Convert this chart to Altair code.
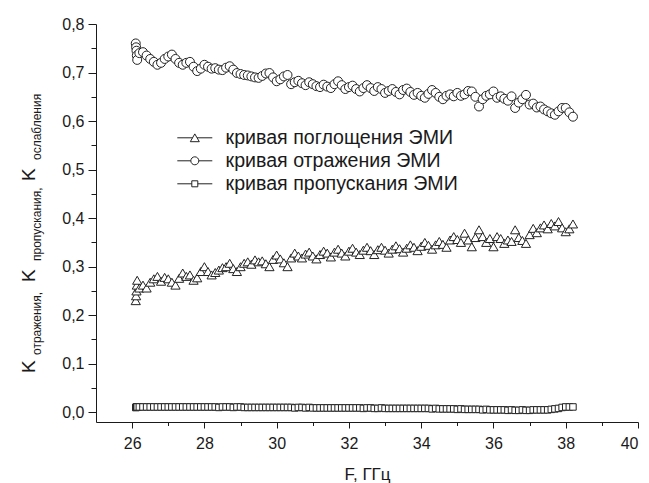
import altair as alt
import pandas as pd

# ---------------- data ----------------
freq = [26.10, 26.11, 26.12, 26.13, 26.14,
        26.2, 26.3, 26.4, 26.5, 26.6, 26.7, 26.8, 26.9, 27.0, 27.1,
        27.2, 27.3, 27.4, 27.5, 27.6, 27.7, 27.8, 27.9, 28.0, 28.1,
        28.2, 28.3, 28.4, 28.5, 28.6, 28.7, 28.8, 28.9, 29.0, 29.1,
        29.2, 29.3, 29.4, 29.5, 29.6, 29.7, 29.8, 29.9, 30.0, 30.1,
        30.2, 30.3, 30.4, 30.5, 30.6, 30.7, 30.8, 30.9, 31.0, 31.1,
        31.2, 31.3, 31.4, 31.5, 31.6, 31.7, 31.8, 31.9, 32.0, 32.1,
        32.2, 32.3, 32.4, 32.5, 32.6, 32.7, 32.8, 32.9, 33.0, 33.1,
        33.2, 33.3, 33.4, 33.5, 33.6, 33.7, 33.8, 33.9, 34.0, 34.1,
        34.2, 34.3, 34.4, 34.5, 34.6, 34.7, 34.8, 34.9, 35.0, 35.1,
        35.2, 35.3, 35.4, 35.5, 35.6, 35.7, 35.8, 35.9, 36.0, 36.1,
        36.2, 36.3, 36.4, 36.5, 36.6, 36.7, 36.8, 36.9, 37.0, 37.1,
        37.2, 37.3, 37.4, 37.5, 37.6, 37.7, 37.8, 37.9, 38.0, 38.1,
        38.2]

k_absorb = [0.230, 0.240, 0.250, 0.262, 0.272,
            0.256, 0.262, 0.256, 0.268, 0.275, 0.280, 0.270, 0.278, 0.275, 0.268,
            0.262, 0.276, 0.287, 0.280, 0.283, 0.272, 0.277, 0.290, 0.300, 0.290,
            0.283, 0.288, 0.293, 0.298, 0.300, 0.307, 0.296, 0.290, 0.300, 0.307,
            0.310, 0.305, 0.314, 0.310, 0.312, 0.306, 0.300, 0.315, 0.324, 0.316,
            0.308, 0.300, 0.318, 0.328, 0.322, 0.318, 0.326, 0.330, 0.322, 0.316,
            0.325, 0.332, 0.328, 0.320, 0.330, 0.336, 0.328, 0.322, 0.332, 0.338,
            0.330, 0.325, 0.334, 0.340, 0.333, 0.325, 0.335, 0.340, 0.334, 0.328,
            0.336, 0.343, 0.337, 0.330, 0.338, 0.345, 0.340, 0.333, 0.342, 0.350,
            0.344, 0.336, 0.345, 0.352, 0.346, 0.340, 0.355, 0.362, 0.356, 0.350,
            0.369, 0.355, 0.341, 0.360, 0.376, 0.362, 0.350, 0.358, 0.341, 0.362,
            0.358, 0.348, 0.355, 0.352, 0.376, 0.360, 0.354, 0.348, 0.366, 0.379,
            0.370, 0.380, 0.386, 0.378, 0.389, 0.384, 0.393, 0.380, 0.372, 0.378,
            0.388]

k_reflect = [0.760, 0.752, 0.745, 0.735, 0.726,
             0.740, 0.742, 0.735, 0.728, 0.722, 0.716, 0.720, 0.728, 0.733, 0.737,
             0.728, 0.720, 0.716, 0.720, 0.722, 0.712, 0.703, 0.708, 0.716, 0.712,
             0.708, 0.709, 0.706, 0.705, 0.710, 0.713, 0.706, 0.699, 0.697, 0.695,
             0.694, 0.692, 0.690, 0.689, 0.693, 0.698, 0.699, 0.690, 0.682, 0.686,
             0.692, 0.695, 0.676, 0.680, 0.683, 0.678, 0.674, 0.680, 0.676, 0.672,
             0.670, 0.675, 0.671, 0.668, 0.676, 0.682, 0.674, 0.666, 0.670, 0.673,
             0.666, 0.661, 0.668, 0.674, 0.668, 0.662, 0.670, 0.666, 0.658, 0.662,
             0.666, 0.660, 0.655, 0.664, 0.667, 0.660, 0.654, 0.658, 0.652, 0.648,
             0.656, 0.664, 0.658, 0.650, 0.645, 0.652, 0.655, 0.651, 0.658, 0.652,
             0.655, 0.662, 0.661, 0.650, 0.630, 0.645, 0.652, 0.655, 0.661, 0.648,
             0.651, 0.646, 0.642, 0.651, 0.627, 0.638, 0.645, 0.654, 0.634, 0.636,
             0.628, 0.630, 0.624, 0.620, 0.616, 0.613, 0.620, 0.627, 0.627, 0.618,
             0.609]

k_trans = [0.010, 0.010, 0.011, 0.011, 0.011,
           0.011, 0.011, 0.011, 0.011, 0.011, 0.011, 0.011, 0.011, 0.011, 0.011,
           0.011, 0.011, 0.011, 0.011, 0.011, 0.011, 0.011, 0.011, 0.011, 0.011,
           0.011, 0.011, 0.010, 0.011, 0.011, 0.011, 0.010, 0.011, 0.011, 0.010,
           0.010, 0.010, 0.010, 0.010, 0.010, 0.010, 0.010, 0.010, 0.010, 0.010,
           0.010, 0.010, 0.010, 0.009, 0.010, 0.010, 0.009, 0.010, 0.009, 0.009,
           0.009, 0.009, 0.009, 0.009, 0.009, 0.009, 0.009, 0.009, 0.009, 0.009,
           0.009, 0.009, 0.008, 0.009, 0.009, 0.008, 0.008, 0.009, 0.008, 0.008,
           0.008, 0.008, 0.008, 0.008, 0.008, 0.008, 0.008, 0.008, 0.008, 0.008,
           0.008, 0.007, 0.008, 0.007, 0.007, 0.007, 0.007, 0.007, 0.006, 0.007,
           0.006, 0.006, 0.006, 0.006, 0.006, 0.005, 0.006, 0.005, 0.005, 0.005,
           0.005, 0.005, 0.004, 0.005, 0.004, 0.004, 0.005, 0.004, 0.004, 0.005,
           0.005, 0.005, 0.005, 0.005, 0.006, 0.007, 0.008, 0.010, 0.011, 0.011,
           0.011]

series_names = ["кривая поглощения ЭМИ", "кривая отражения ЭМИ", "кривая пропускания ЭМИ"]
x_major = [26, 28, 30, 32, 34, 36, 38, 40]
x_minor = [27, 29, 31, 33, 35, 37, 39]
y_major = [0.0, 0.1, 0.2, 0.3, 0.4, 0.5, 0.6, 0.7, 0.8]
y_minor = [0.05, 0.15, 0.25, 0.35, 0.45, 0.55, 0.65, 0.75]

# ---------------- build table ----------------
rows = []
for name, vals in zip(series_names, [k_absorb, k_reflect, k_trans]):
    for f, v in zip(freq, vals):
        rows.append({"F": f, "K": v, "series": name})
df = pd.DataFrame(rows)

FONT = "Liberation Sans"
INK = "#1a1a1a"
EDGE = "#222222"
xs = alt.Scale(domain=[25, 40], nice=False, zero=False)
ys = alt.Scale(domain=[-0.02, 0.8], nice=False, zero=False)

x_axis = alt.Axis(values=x_major, format="d", tickSize=6, labelFontSize=16, labelFont=FONT,
                  labelColor=INK, tickColor=INK, domainColor=INK, labelPadding=7, grid=False,
                  title="F, ГГц", titleFont=FONT, titleFontSize=17, titleFontWeight="normal",
                  titleColor=INK, titlePadding=15, orient="bottom")
y_axis = alt.Axis(values=y_major, labelExpr="replace(format(datum.value, '.1f'), '.', ',')",
                  tickSize=8, labelFontSize=16, labelFont=FONT, labelColor=INK, tickColor=INK,
                  domainColor=INK, labelPadding=4, grid=False, title=None, orient="left")
x_axis_minor = alt.Axis(values=x_minor, tickSize=3.5, labels=False, domain=False, grid=False,
                        tickColor=INK, title=None, orient="bottom")
y_axis_minor = alt.Axis(values=y_minor, tickSize=5, labels=False, domain=False, grid=False,
                        tickColor=INK, title=None, orient="left")

marker = dict(filled=True, fill="white", stroke=EDGE, strokeWidth=1, opacity=1)

def series_layer(name, shape, size, with_axes):
    enc_x = alt.X("F:Q", scale=xs, axis=x_axis if with_axes else None)
    enc_y = alt.Y("K:Q", scale=ys, axis=y_axis if with_axes else None)
    return (alt.Chart(df).transform_filter(alt.datum.series == name)
            .mark_point(shape=shape, size=size, **marker)
            .encode(x=enc_x, y=enc_y))

tri = series_layer(series_names[0], "triangle-up", 85, True)
circ = series_layer(series_names[1], "circle", 80, False)
sq = series_layer(series_names[2], "square", 42, False)

# legend symbols: line - marker - line (custom paths, unit = 5 px)
p_tri = "M0,-0.78L0.9,0.78L-0.9,0.78Z M-3.5,0L-0.45,0 M0.45,0L3.5,0"
p_circ = ("M-0.8,0A0.8,0.8 0 1,0 0.8,0A0.8,0.8 0 1,0 -0.8,0Z "
          "M-3.5,0L-0.8,0 M0.8,0L3.5,0")
p_sq = "M-0.6,-0.6L0.6,-0.6L0.6,0.6L-0.6,0.6Z M-3.5,0L-0.6,0 M0.6,0L3.5,0"

leg = alt.Legend(orient="none", legendX=89, legendY=104, title=None, padding=0, symbolSize=100,
                 symbolStrokeWidth=1, symbolOpacity=1, labelFont=FONT, labelFontSize=19.6,
                 labelColor=INK, labelOffset=21, rowPadding=2, labelLimit=600)

legend_layer = (alt.Chart(df).transform_filter("false")
                .mark_point(filled=True, strokeWidth=1, opacity=1)
                .encode(
                    x=alt.X("F:Q", scale=xs, axis=x_axis_minor),
                    y=alt.Y("K:Q", scale=ys, axis=y_axis_minor),
                    shape=alt.Shape("series:N",
                                    scale=alt.Scale(domain=series_names, range=[p_tri, p_circ, p_sq]),
                                    legend=leg),
                    fill=alt.Fill("series:N",
                                  scale=alt.Scale(domain=series_names, range=["white", "white", "white"]),
                                  legend=leg),
                    stroke=alt.Stroke("series:N",
                                      scale=alt.Scale(domain=series_names, range=[EDGE, EDGE, EDGE]),
                                      legend=leg)))

# ---------------- y-axis title with subscripts ----------------
one = pd.DataFrame({"a": [0]})

def ttext(txt, x, y, size):
    return (alt.Chart(one).mark_text(text=txt, angle=270, align="left", baseline="alphabetic",
                                    font=FONT, fontSize=size, color=INK)
            .encode(x=alt.value(x), y=alt.value(y)))

K_SIZE, SUB_SIZE = 19, 12
KX, SUBX = -61, -55.5
title_layers = [
    ttext("K", KX, 349, K_SIZE),
    ttext("отражения,", SUBX, 331, SUB_SIZE),
    ttext("K", KX, 258, K_SIZE),
    ttext("пропускания,", SUBX, 237, SUB_SIZE),
    ttext("K", KX, 157, K_SIZE),
    ttext("ослабления", SUBX, 136, SUB_SIZE),
]

chart = (alt.layer(tri, circ, sq, legend_layer, *title_layers)
         .resolve_axis(x="independent", y="independent")
         .resolve_scale(shape="independent", fill="independent", stroke="independent")
         .properties(width=542, height=398,
                     padding={"left": 88, "top": 16, "right": 3, "bottom": 62},
                     autosize=alt.AutoSizeParams(type="none"),
                     background="white")
         .configure_view(stroke=None))

chart.save("out.html", embed_options={"renderer": "svg", "actions": False})
